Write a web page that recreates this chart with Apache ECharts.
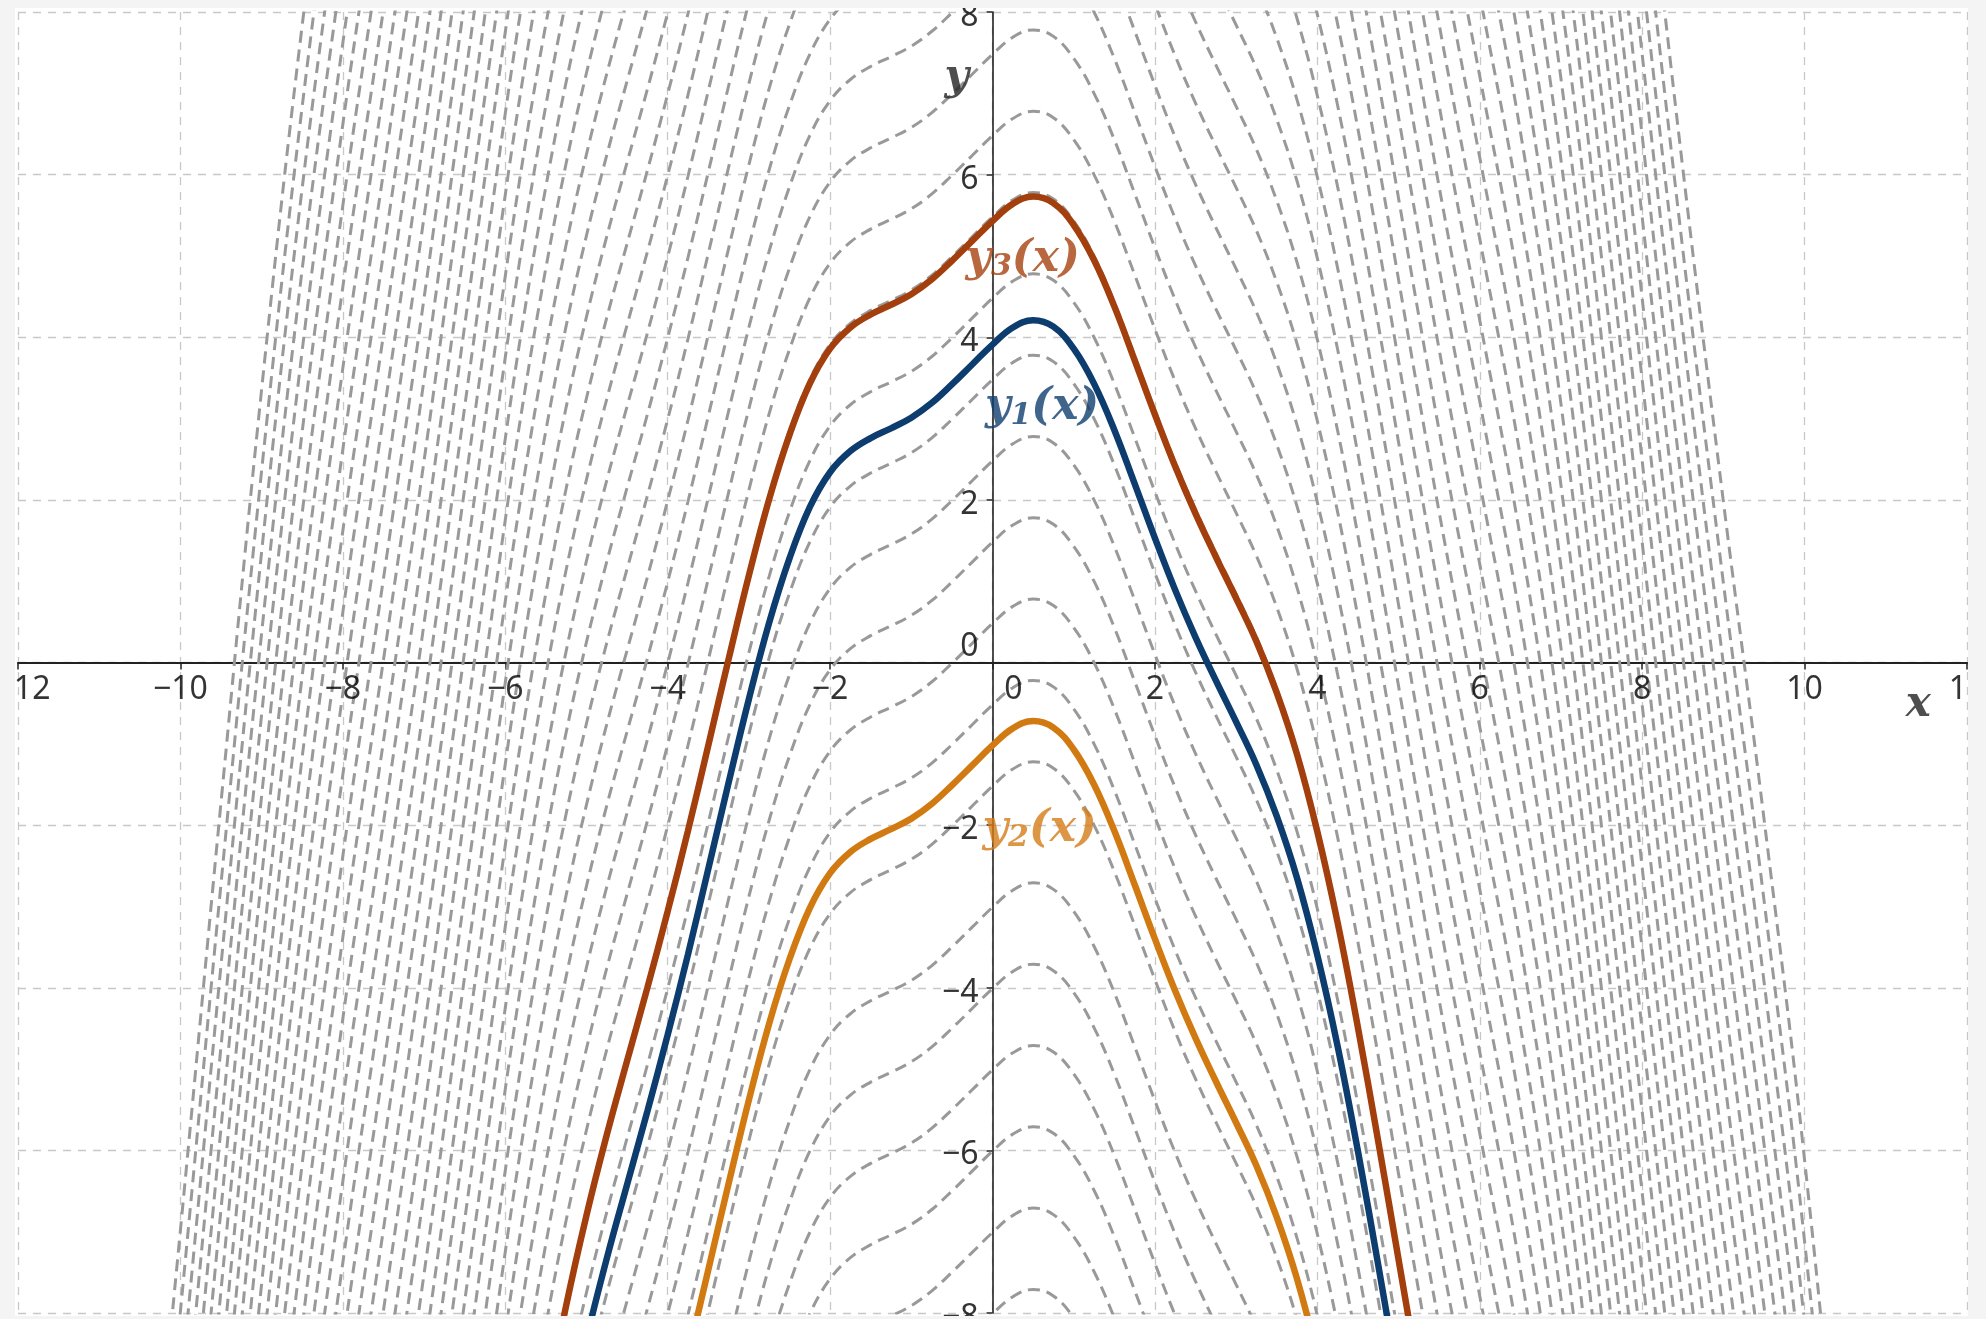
<!DOCTYPE html>
<html><head><meta charset="utf-8">
<script src="https://cdn.jsdelivr.net/npm/echarts@6/dist/echarts.min.js"></script>
<style>
html,body{margin:0;padding:0;background:#f4f4f4;width:1986px;height:1319px;overflow:hidden}
#c{position:absolute;left:15px;top:8px;width:1953px;height:1308px;background:#fff}
</style></head><body><div id="c"></div>
<script>
// x sample positions of the common curve shape
const XS = [-11,-10.5,-10,-9.5,-9,-8.5,-8,-7.5,-7,-6.5,-6,-5.75,-5.5,-5.25,-5,-4.75,-4.5,-4.25,-4,-3.75,-3.5,-3.25,-3,-2.75,-2.5,-2.25,-2,-1.75,-1.5,-1.25,-1,-0.75,-0.5,-0.25,0,0.25,0.5,0.75,1,1.25,1.5,1.75,2,2.25,2.5,2.75,3,3.25,3.5,3.75,4,4.25,4.5,4.75,5,5.25,5.5,5.75,6,6.5,7,7.5,8,8.5,9,9.5,10,10.5,11];
// common curve shape (peak ≈ 0.30 at x ≈ 0.5)
const BASE = [-60.50,-55.54,-50.46,-45.20,-40.12,-35.64,-31.86,-28.45,-25.00,-21.34,-17.73,-16.09,-14.63,-13.34,-12.23,-11.24,-10.33,-9.43,-8.49,-7.50,-6.45,-5.39,-4.36,-3.42,-2.63,-2.00,-1.57,-1.31,-1.15,-1.03,-0.90,-0.72,-0.49,-0.245,0.00,0.21,0.30,0.22,-0.05,-0.48,-1.05,-1.71,-2.38,-3.02,-3.60,-4.13,-4.64,-5.17,-5.80,-6.56,-7.51,-8.63,-9.92,-11.32,-12.77,-14.22,-15.63,-16.97,-18.27,-20.95,-24.30,-28.50,-33.00,-37.40,-41.50,-45.40,-49.60,-54.70,-60.50];
// vertical shifts of the grey dashed family
const DASHED_SHIFTS = [43.48,42.48,41.48,40.48,39.48,38.48,37.48,36.48,35.48,34.48,33.48,32.48,31.48,30.48,29.48,28.48,27.48,26.48,25.48,24.48,23.48,22.48,21.48,20.48,19.48,18.48,17.48,16.48,15.48,14.48,13.48,12.48,11.48,10.48,9.48,8.48,7.48,6.48,5.48,4.48,3.48,2.48,1.48,0.48,-0.52,-1.52,-3.01,-4.01,-5.01,-6.01,-7.01,-8.01];
// highlighted curves
const CURVE_NAMES = ['y2','y1','y3'];
const CURVE_SUBS = ['2','1','3'];
const CURVE_SHIFTS = [-1.02, 3.91, 5.43];
// tick labels
const X_TICKS = [-12,-10,-8,-6,-4,-2,0,2,4,6,8,10,12];
const Y_TICKS = [-8,-6,-4,-2,0,2,4,6,8];
// label anchors (data coords)
const CURVE_LABEL_X = [0.58, 0.61, 0.37];
const CURVE_LABEL_Y = [-2.06, 3.13, 4.96];
const AXIS_NAMES = ['x','y'];
const AXIS_NAME_X = [11.40, -0.44];
const AXIS_NAME_Y = [-0.52, 7.19];

const STYLE = {
  colors: {y1:'#0c3d6e', y2:'#d27a12', y3:'#a33f0d'},
  labelColors: {y1:'#0f3e6f', y2:'#d47c16', y3:'#a6410e'}
};

const minus = v => String(v).replace('-', '\u2212');
const curve = shift => XS.map((x, i) => [x, +(BASE[i] + shift).toFixed(3)]);
const TICKFONT = {fontFamily:'Noto Sans', fontSize:32, color:'#000'};

const series = [];
DASHED_SHIFTS.forEach((s, i) => {
  series.push({
    type:'line', name:'d'+i, data: curve(s), smooth:0.4, showSymbol:false, silent:true,
    clip:true, z:2,
    lineStyle:{color:'#999999', width:3, type:[12,7]}
  });
});
CURVE_NAMES.forEach((n, i) => {
  series.push({
    type:'line', name:n, data: curve(CURVE_SHIFTS[i]), smooth:0.4, showSymbol:false, silent:true,
    clip:true, z:3,
    lineStyle:{color:STYLE.colors[n], width:6.5}
  });
});

// curve labels and axis names
const labelItems = [];
CURVE_NAMES.forEach((n, i) => {
  const c = STYLE.labelColors[n];
  labelItems.push({
    value:[CURVE_LABEL_X[i], CURVE_LABEL_Y[i]],
    label:{
      show:true, position:'inside',
      formatter:'{v|y}{s|' + CURVE_SUBS[i] + '}{v|(x)}',
      rich:{
        v:{fontFamily:'DejaVu Serif', fontStyle:'italic', fontWeight:'bold', fontSize:44, color:c},
        s:{fontFamily:'DejaVu Serif', fontStyle:'italic', fontWeight:'bold', fontSize:30, color:c, padding:[17,0,0,0]}
      }
    }
  });
});
AXIS_NAMES.forEach((n, i) => {
  labelItems.push({
    value:[AXIS_NAME_X[i], AXIS_NAME_Y[i]],
    label:{show:true, position:'inside', formatter:n,
      fontFamily:'DejaVu Serif', fontStyle:'italic', fontWeight:'bold', fontSize:42, color:'#222'}
  });
});
series.push({type:'scatter', symbolSize:0, silent:true, z:10, data:labelItems});

// tick labels placed through the axes' scales
const tickItems = [];
X_TICKS.forEach(v => {
  tickItems.push({
    value:[v, 0],
    label:Object.assign({show:true, position:'bottom', distance:11, formatter:minus(v),
      offset:[v === 0 ? 21 : (v === -12 ? 5 : 0), 0]}, TICKFONT)
  });
});
Y_TICKS.forEach(v => {
  tickItems.push({
    value:[0, v],
    label:Object.assign({show:true, position:'left', distance:14, formatter:minus(v),
      offset:[0, v === 0 ? -16 : 5]}, TICKFONT)
  });
});
series.push({type:'scatter', symbolSize:0, silent:true, z:9, clip:false, data:tickItems});

const chart = echarts.init(document.getElementById('c'), null, {renderer:'canvas'});
chart.setOption({
  animation:false,
  backgroundColor:'transparent',
  grid:{left:3, right:1, top:4, bottom:3, containLabel:false, outerBoundsMode:'none'},
  tooltip:{show:false},
  xAxis:{
    type:'value', min:-12, max:12, interval:2,
    axisLine:{onZero:true, lineStyle:{color:'#222', width:2}},
    axisTick:{show:true, length:7, lineStyle:{color:'#222', width:1.5}},
    axisLabel:{show:false},
    splitLine:{show:true, lineStyle:{color:'#c8c8c8', width:1.3, type:[8,7]}}
  },
  yAxis:{
    type:'value', min:-8, max:8, interval:2,
    axisLine:{onZero:true, lineStyle:{color:'#222', width:1.6}},
    axisTick:{show:true, length:6, lineStyle:{color:'#222', width:1.5}},
    axisLabel:{show:false},
    splitLine:{show:true, lineStyle:{color:'#c8c8c8', width:1.3, type:[8,7]}}
  },
  series: series
});
</script></body></html>
